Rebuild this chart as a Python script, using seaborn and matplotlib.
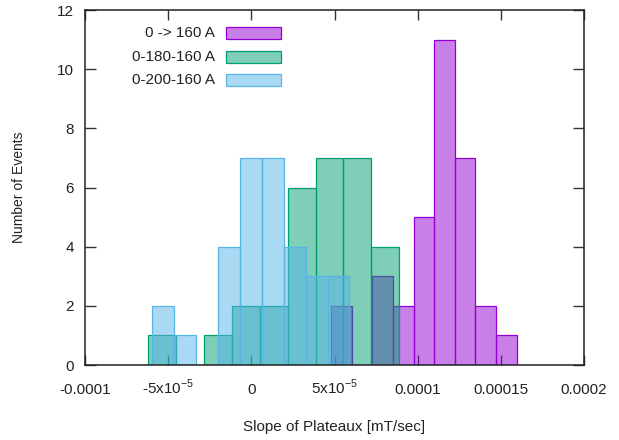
import numpy as np
import pandas as pd
import matplotlib
matplotlib.use("Agg")
import matplotlib.pyplot as plt
from matplotlib.patches import Rectangle
import seaborn as sns

# ---- data ----
series_names = ["0 -> 160 A", "0-180-160 A", "0-200-160 A"]
series_colors = ["#9400d3", "#009e73", "#56b4e9"]

edges_a = [4.79e-5, 6.03e-5, 7.27e-5, 8.51e-5, 9.75e-5, 10.99e-5, 12.23e-5, 13.47e-5, 14.71e-5, 15.95e-5]
counts_a = [2, 0, 3, 2, 5, 11, 7, 2, 1]

edges_b = [-6.19e-5, -4.51e-5, -2.84e-5, -1.16e-5, 0.51e-5, 2.19e-5, 3.87e-5, 5.54e-5, 7.22e-5, 8.90e-5]
counts_b = [1, 0, 1, 2, 2, 6, 7, 7, 4]

edges_c = [-5.95e-5, -4.63e-5, -3.32e-5, -2.00e-5, -0.69e-5, 0.63e-5, 1.95e-5, 3.26e-5, 4.58e-5, 5.89e-5]
counts_c = [2, 1, 0, 4, 7, 7, 4, 3, 3]

x_ticks = [-1e-4, -5e-5, 0, 5e-5, 1e-4, 1.5e-4, 2e-4]
x_ticklabels = ["-0.0001", r"-5x10$^{\mathregular{-5}}$", "0", r"5x10$^{\mathregular{-5}}$",
                "0.0001", "0.00015", "0.0002"]
y_ticks = [0, 2, 4, 6, 8, 10, 12]

sns.set_style("ticks")
plt.rcParams["font.family"] = ["Liberation Sans", "DejaVu Sans"]
plt.rcParams["mathtext.fontset"] = "custom"
plt.rcParams["mathtext.rm"] = "Liberation Sans"

TXT = "#222222"
FS = 11

fig = plt.figure(figsize=(6.19, 4.40), dpi=100)
ax = fig.add_axes([85 / 619, 1 - 365 / 440, 499 / 619, 355 / 440])

all_edges = [edges_a, edges_b, edges_c]
all_counts = [counts_a, counts_b, counts_c]
for name, color, edges, counts in zip(series_names, series_colors, all_edges, all_counts):
    e = np.array(edges)
    centers = (e[:-1] + e[1:]) / 2
    df = pd.DataFrame({"x": centers, "w": counts})
    sns.histplot(data=df, x="x", weights="w", bins=list(edges), color=color, alpha=0.5,
                 edgecolor=color, linewidth=0.9, ax=ax)

ax.set_xlim(-1e-4, 2e-4)
ax.set_ylim(0, 12)
ax.set_xticks(x_ticks)
ax.set_xticklabels(x_ticklabels)
ax.set_yticks(y_ticks)
ax.tick_params(axis="both", direction="in", top=True, right=True, labelsize=FS,
               colors="#333333", labelcolor=TXT, width=1.0)
ax.tick_params(axis="y", length=8, pad=8)
ax.tick_params(axis="x", length=7, pad=20.9)
for t in ax.xaxis.get_major_ticks():
    t.label1.set_va("baseline")
for sp in ax.spines.values():
    sp.set_visible(True)
    sp.set_linewidth(1.1)
    sp.set_color(TXT)

ax.set_xlabel("Slope of Plateaux [mT/sec]", fontsize=FS, color=TXT)
ax.set_ylabel("Number of Events", fontsize=10, color=TXT)
ax.xaxis.set_label_coords(0.5, -(427 - 365) / 355)
ax.xaxis.label.set_va("center")
ax.yaxis.set_label_coords((19 - 85) / 499, 0.5)
ax.yaxis.label.set_va("center")

# gnuplot-style legend: right-aligned labels followed by sample boxes
row_y = [0.9346, 0.8685, 0.8028]
for name, color, yy in zip(series_names, series_colors, row_y):
    ax.text(0.2605, yy, name, transform=ax.transAxes, ha="right", va="center",
            fontsize=FS, color=TXT)
    rgba_face = matplotlib.colors.to_rgba(color, 0.5)
    ax.add_patch(Rectangle((0.282, yy - 0.017), 0.110, 0.034, transform=ax.transAxes,
                           facecolor=rgba_face, edgecolor=color, linewidth=0.9,
                           clip_on=False))

fig.savefig("out.png", dpi=100)
